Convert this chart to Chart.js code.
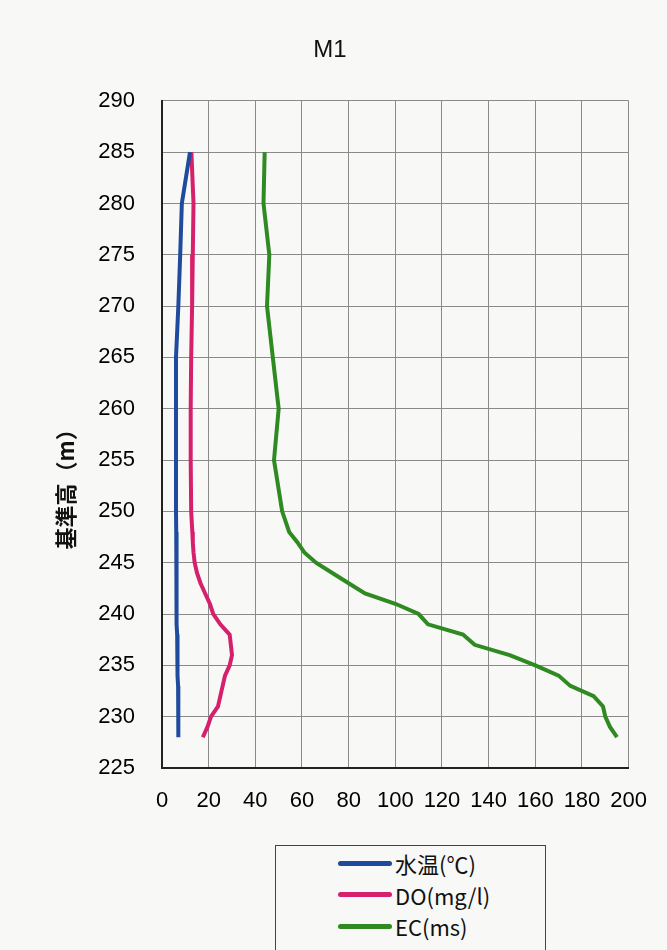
<!DOCTYPE html>
<html>
<head>
<meta charset="utf-8">
<script src="https://cdn.jsdelivr.net/npm/chart.js@4/dist/chart.umd.min.js"></script>
<style>
  html, body { margin: 0; padding: 0; background: #f8f8f6; }
  #wrap { position: relative; width: 667px; height: 950px; overflow: hidden; }
  #legend {
    position: absolute; left: 275px; top: 845px; width: 271px; height: 130px;
    border: 1px solid #444; box-sizing: border-box; background: #f8f8f6;
    font-family: "Noto Sans CJK JP", "Liberation Sans", sans-serif; font-size: 22px; color: #111;
  }
  .item { position: absolute; left: 62px; height: 30px; display: flex; align-items: center; }
  .swatch { width: 54px; height: 5px; border-radius: 3px; margin-right: 3px; }
</style>
</head>
<body>
<div id="wrap">
  <canvas id="c" width="667" height="950"></canvas>
  <div id="legend"></div>
</div>
<script>
// depth (基準高, m)
const depths = [285, 280, 275, 270, 265, 260, 255, 250, 248, 247, 246, 245, 244, 243, 242, 241,
  240, 239, 238, 237, 236, 235, 234, 233, 232, 231, 230, 229, 228];

const waterTemp = [12, 8.5, 7.8, 7, 6, 6, 6, 6, 6.1, 6.1, 6.1, 6.2, 6.2, 6.2, 6.3, 6.3,
  6.4, 6.4, 6.5, 6.5, 6.6, 6.7, 6.8, 6.9, 7, 7, 7, 7, 7];
const dissolvedO2 = [12.6, 13.5, 13.2, 12.9, 12.5, 12.3, 12.3, 12.5, 13, 13.2, 13.5, 14, 15, 16.5, 18.5, 20.5,
  22, 25, 29, 29.5, 30, 29, 27, 26, 25, 24, 21, 19.5, 17.5];
const elecCond = [44, 43.5, 46, 45, 47.5, 50, 48, 51.5, 54.5, 58, 61, 66, 73, 80, 87, 100,
  110, 114, 129, 134, 149, 160, 170, 175, 185, 189, 190, 192, 195];

const seriesNames = ['水温(℃)', 'DO(mg/l)', 'EC(ms)'];
const seriesColors = ['#1f4b9e', '#d6206c', '#2f8a22'];

const chartTitle = '    M1';
const yTitle = '基準高（m）　　　　　';

const toPoints = (vals) => vals.map((v, i) => ({ x: v, y: depths[i] }));

const datasets = [waterTemp, dissolvedO2, elecCond].map((vals, i) => ({
  label: seriesNames[i],
  data: toPoints(vals),
  borderColor: seriesColors[i],
  backgroundColor: seriesColors[i],
  borderWidth: 4,
  pointRadius: 0,
  tension: 0,
  fill: false
}));

const tickFont = { family: '"Liberation Sans", Arial, sans-serif', size: 22, weight: 'normal' };

new Chart(document.getElementById('c'), {
  type: 'line',
  data: { datasets },
  options: {
    responsive: false,
    animation: false,
    layout: { padding: { left: 0, right: 34, top: 0, bottom: 0 } },
    plugins: {
      legend: { display: false },
      tooltip: { enabled: false },
      title: {
        display: true,
        text: chartTitle,
        color: '#111',
        font: { family: '"Liberation Sans", Arial, sans-serif', size: 24, weight: 'normal' },
        padding: { top: 36, bottom: 36 }
      }
    },
    scales: {
      x: {
        type: 'linear',
        min: 0,
        max: 200,
        ticks: { stepSize: 20, color: '#000', font: tickFont, padding: 20 },
        grid: { color: '#8a8a8a', lineWidth: 1, drawTicks: false },
        border: { color: '#222', width: 2 },
        afterFit: (scale) => { scale.height = 182; }
      },
      y: {
        type: 'linear',
        min: 225,
        max: 290,
        ticks: { stepSize: 5, color: '#000', font: tickFont, padding: 27 },
        grid: { color: '#8a8a8a', lineWidth: 1, drawTicks: false },
        border: { color: '#222', width: 2 },
        title: {
          display: true,
          text: yTitle,
          color: '#111',
          font: { family: '"Noto Sans CJK JP", sans-serif', size: 22, weight: 'bold' },
          padding: { top: 52, bottom: 0 }
        },
        afterFit: (scale) => { scale.width = 162; }
      }
    }
  }
});

// legend box below the chart
const legend = document.getElementById('legend');
seriesNames.forEach((name, i) => {
  const item = document.createElement('div');
  item.className = 'item';
  item.style.top = (2 + i * 31.5) + 'px';
  item.innerHTML = '<span class="swatch" style="background:' + seriesColors[i] + '"></span><span>' + name + '</span>';
  legend.appendChild(item);
});
</script>
</body>
</html>
